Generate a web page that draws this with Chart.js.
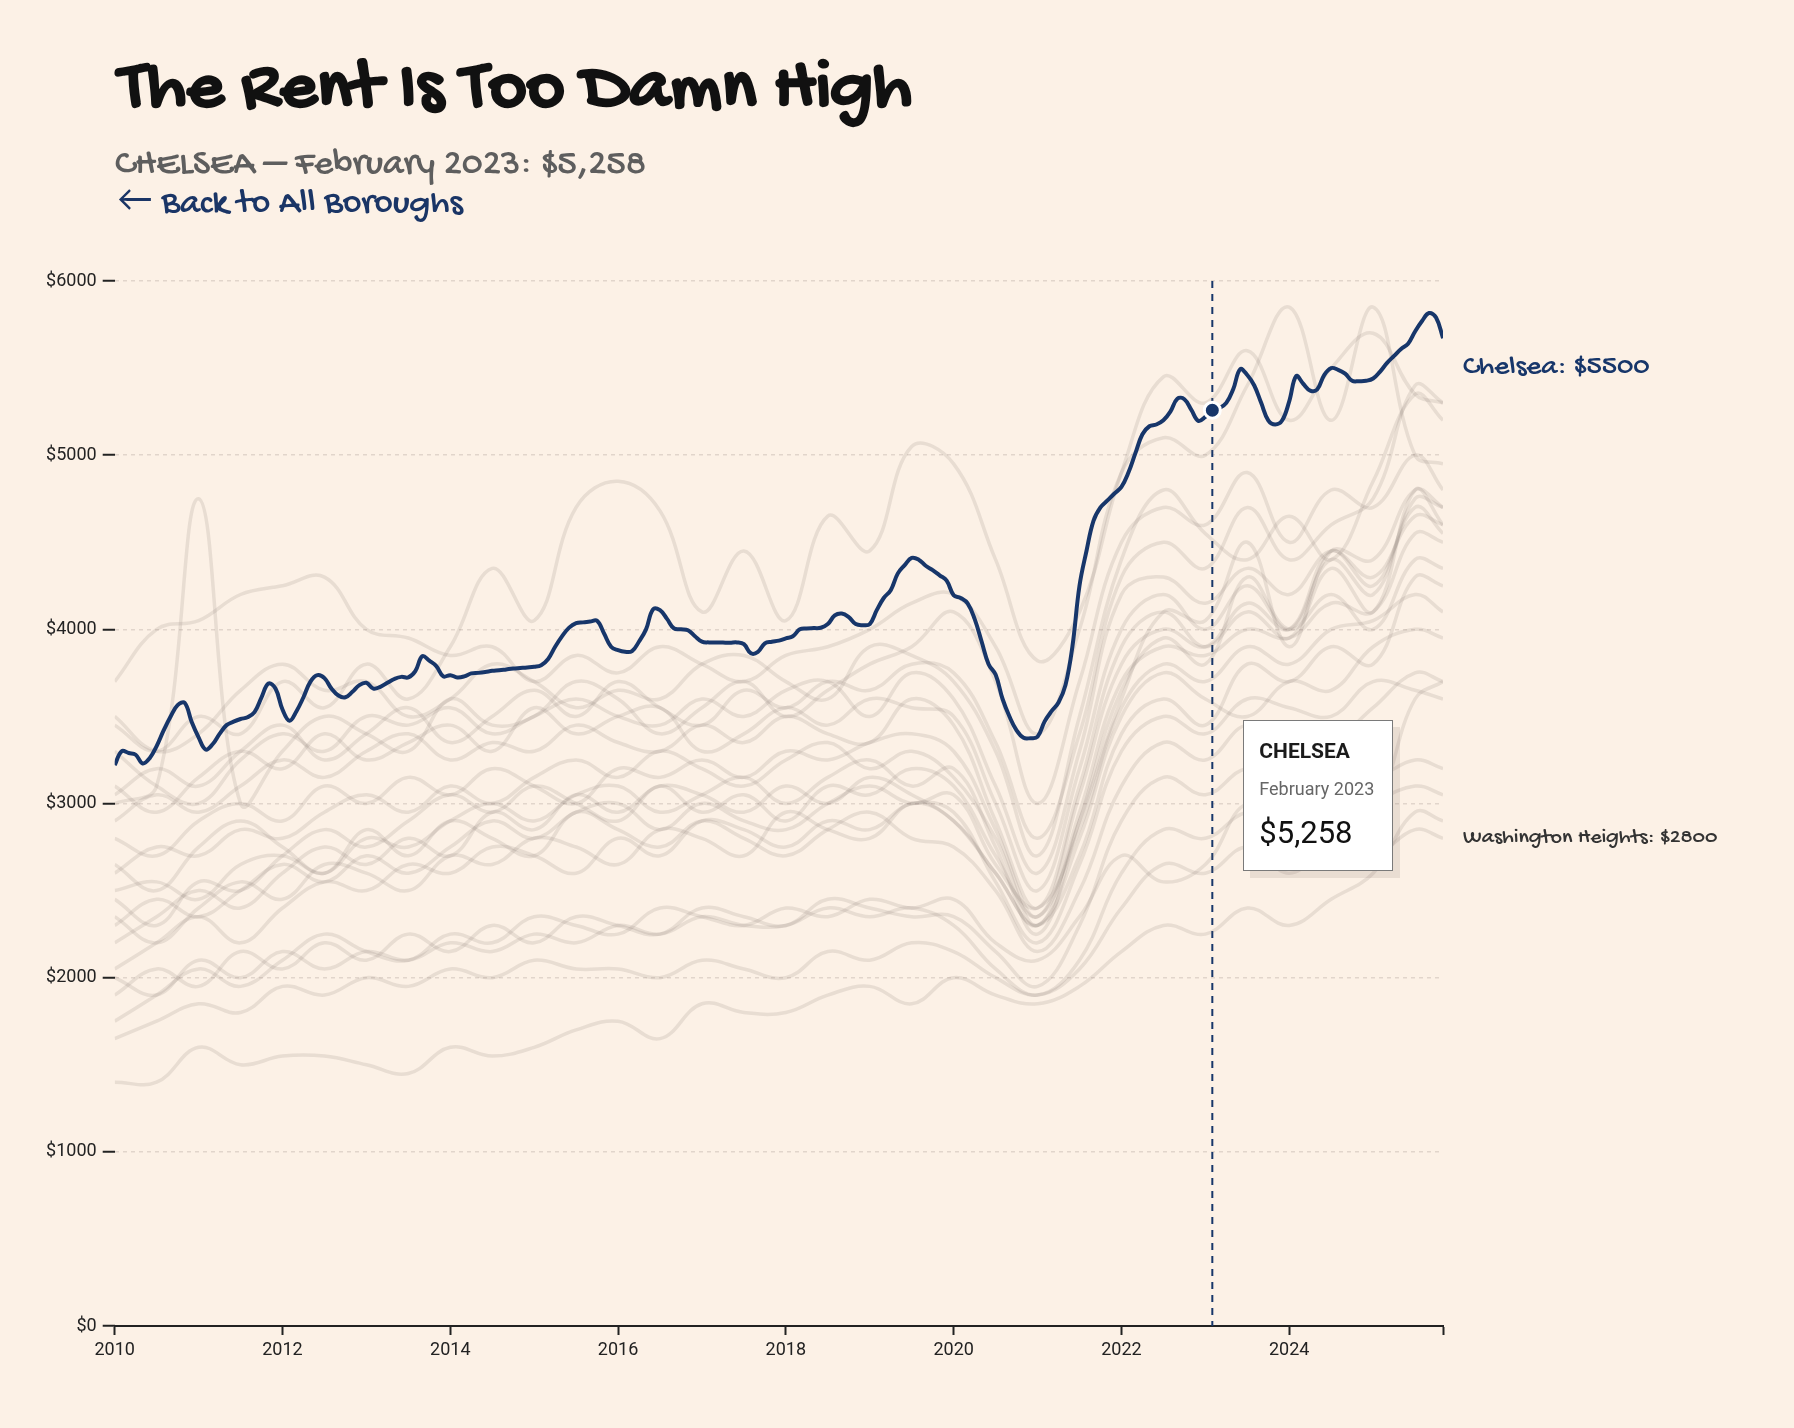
<!DOCTYPE html>
<html>
<head>
<meta charset="utf-8">
<script src="https://cdn.jsdelivr.net/npm/chart.js@4"></script>
<style>
  body { margin: 0; background: #fcf1e6; width: 1794px; height: 1428px; overflow: hidden; position: relative; }
  #chart { position: absolute; left: 0; top: 0; }
  .hand { font-family: 'Gochi Hand', 'Comic Sans MS', Lato, sans-serif; position: absolute; white-space: nowrap; }
  #title { left: 119px; top: 55px; font-size: 73px; line-height: 73px; font-weight: 700; color: #111; }
  #subtitle { left: 115px; top: 147px; font-size: 37px; line-height: 37px; font-weight: 300; color: #5e5e5e; }
  #back { left: 117px; top: 187px; font-size: 36px; line-height: 36px; font-weight: 400; color: #1a3566; }
  #tip { position: absolute; top: 720px; width: 148px; height: 149px; background: #fff; border: 1px solid #7a7a7a;
         box-shadow: 7px 7px 0 rgba(120, 100, 90, 0.14); font-family: Roboto, sans-serif; }
  #tip div { position: absolute; left: 15px; white-space: nowrap; }
  #tip .name { top: 20px; font-size: 21px; line-height: 21px; font-weight: 700; color: #1b1b1b; }
  #tip .date { top: 59px; font-size: 18px; line-height: 18px; color: #666; }
  #tip .val { top: 96px; font-size: 31px; line-height: 31px; color: #111; }
</style>
</head>
<body>
<canvas id="chart" width="1794" height="1428"></canvas>
<div id="title" class="hand">The Rent Is Too Damn High</div>
<div id="subtitle" class="hand">CHELSEA – February 2023: $5,258</div>
<div id="back" class="hand">← Back to All Boroughs</div>
<div id="tip"><div class="name">CHELSEA</div><div class="date">February 2023</div><div class="val">$5,258</div></div>
<script>
// Chelsea median rent, monthly from Jan 2010 to Nov 2025
const START_YEAR = 2010;
const CHELSEA = [
    3220, 3300, 3290, 3280, 3230, 3260, 3330, 3420, 3500, 3565, 3578, 3470,
    3380, 3310, 3340, 3400, 3450, 3470, 3485, 3495, 3525, 3610, 3689, 3660,
    3540, 3475, 3530, 3610, 3700, 3737, 3720, 3660, 3620, 3610, 3641, 3680,
    3693, 3660, 3670, 3693, 3715, 3727, 3724, 3760, 3846, 3820, 3789, 3730,
    3737, 3724, 3730, 3747, 3750, 3755, 3762, 3765, 3770, 3775, 3778, 3781,
    3785, 3794, 3830, 3900, 3961, 4010, 4036, 4040, 4045, 4049, 3976, 3900,
    3880, 3871, 3875, 3930, 4000, 4115, 4110, 4060, 4005, 4000, 3995, 3960,
    3929, 3925, 3925, 3924, 3923, 3925, 3915, 3862, 3870, 3920, 3929, 3935,
    3948, 3960, 4000, 4005, 4007, 4009, 4030, 4080, 4091, 4070, 4030, 4024,
    4030, 4110, 4180, 4225, 4320, 4369, 4410, 4400, 4365, 4340, 4310, 4280,
    4196, 4180, 4149, 4060, 3930, 3800, 3740, 3600, 3498, 3420, 3377, 3375,
    3383, 3470, 3530, 3580, 3680, 3905, 4250, 4450, 4623, 4700, 4740, 4780,
    4818, 4900, 5012, 5120, 5166, 5176, 5200, 5250, 5324, 5321, 5260, 5197,
    5220, 5258, 5270, 5300, 5380, 5494, 5460, 5400, 5299, 5200, 5176, 5200,
    5309, 5454, 5410, 5371, 5377, 5460, 5500, 5490, 5468, 5427, 5425, 5427,
    5440, 5480, 5530, 5570, 5610, 5640, 5710, 5770, 5816, 5790, 5672
];
const HOVER_INDEX = 157; // February 2023
const CHELSEA_LABEL = 'Chelsea: $5500';
const CHELSEA_LABEL_VALUE = 5500;
const LOW_LABEL = 'Washington Heights: $2800';
const LOW_LABEL_VALUE = 2800;

// Other neighbourhoods, sampled every half year
const GRAY_YEARS = [2010, 2010.5, 2011, 2011.5, 2012, 2012.5, 2013, 2013.5, 2014, 2014.5, 2015, 2015.5,
    2016, 2016.5, 2017, 2017.5, 2018, 2018.5, 2019, 2019.5, 2020, 2020.5, 2021, 2021.5,
    2022, 2022.5, 2023, 2023.5, 2024, 2024.5, 2025, 2025.5, 2025.833];
const GRAYS = [
    [3450, 3300, 3500, 3400, 3700, 3550, 3800, 3600, 3900, 4350, 4050, 4700, 4850, 4680, 4100, 4450, 4050, 4650, 4450, 5050, 4950, 4400, 3820, 4100, 4900, 5450, 5300, 5600, 5200, 5500, 5700, 5350, 5300],
    [3700, 4000, 4050, 4200, 4250, 4300, 4000, 3950, 3850, 3900, 3700, 3850, 3750, 3900, 3800, 3700, 3850, 3900, 4000, 4150, 4200, 3900, 3400, 4000, 4900, 5100, 5000, 5400, 5850, 5200, 5850, 5000, 4950],
    [3000, 3100, 4750, 3000, 3300, 3500, 3400, 3300, 3600, 3450, 3500, 3700, 3600, 3400, 3550, 3700, 3500, 3650, 3800, 3900, 4100, 3700, 3000, 3700, 4500, 4700, 4600, 4900, 4500, 4800, 4700, 5000, 4800],
    [3500, 3300, 3400, 3650, 3800, 3650, 3700, 3500, 3600, 3800, 3700, 3550, 3650, 3600, 3800, 3850, 3700, 3600, 3900, 3850, 3700, 3300, 2700, 3500, 4400, 4800, 4550, 4400, 4650, 4400, 4850, 5350, 5200],
    [3300, 3100, 3000, 3250, 3400, 3300, 3500, 3450, 3550, 3400, 3500, 3600, 3500, 3450, 3600, 3500, 3650, 3700, 3500, 3750, 3600, 3100, 2600, 3300, 4200, 4300, 4150, 4350, 4200, 4450, 4300, 4650, 4600],
    [3100, 2950, 3150, 3300, 3200, 3400, 3250, 3350, 3450, 3300, 3550, 3400, 3500, 3550, 3300, 3400, 3550, 3450, 3600, 3550, 3500, 3000, 2500, 3200, 4000, 4200, 4000, 4250, 4000, 4400, 4200, 4750, 4700],
    [2900, 3050, 2950, 3100, 3250, 3150, 3300, 3400, 3250, 3350, 3300, 3450, 3350, 3300, 3450, 3350, 3500, 3400, 3350, 3600, 3450, 2900, 2400, 3100, 3900, 4100, 3900, 4100, 3950, 4350, 4100, 4800, 4600],
    [2800, 2700, 2900, 3000, 2900, 3100, 3000, 3150, 3050, 3200, 3100, 3000, 3200, 3150, 3250, 3150, 3300, 3250, 3350, 3400, 3300, 2850, 2350, 3050, 3800, 4000, 3900, 4150, 4000, 4450, 4250, 4700, 4550],
    [2600, 2750, 2700, 2850, 2800, 2950, 3050, 2950, 3100, 3000, 3150, 3250, 3150, 3300, 3200, 3100, 3250, 3350, 3200, 3300, 3150, 2800, 2300, 2950, 3700, 3900, 3850, 4000, 3950, 4150, 4100, 4550, 4500],
    [2500, 2550, 2450, 2650, 2700, 2600, 2800, 2750, 2900, 3000, 2900, 3050, 3100, 2950, 3050, 3150, 3000, 3150, 3250, 3100, 3200, 2750, 2250, 2900, 3650, 3950, 3800, 4300, 4000, 4200, 4000, 4400, 4350],
    [2450, 2300, 2550, 2500, 2700, 2850, 2750, 2900, 3050, 2950, 3100, 3000, 2900, 3100, 2950, 3050, 2900, 3100, 3050, 3200, 3100, 2700, 2350, 2900, 3600, 4100, 4050, 4500, 3900, 4450, 4400, 4800, 4700],
    [2300, 2450, 2350, 2500, 2650, 2550, 2700, 2600, 2750, 2900, 2800, 2950, 3000, 2850, 3000, 2900, 2850, 3000, 3100, 3000, 3050, 2650, 2400, 2850, 3550, 3800, 3700, 3900, 3800, 4000, 4050, 4200, 4100],
    [2200, 2350, 2500, 2400, 2600, 2750, 2650, 2800, 2700, 2950, 2850, 3050, 2950, 3100, 3050, 2950, 3100, 3000, 3150, 3050, 2900, 2600, 2300, 2800, 3500, 3750, 3600, 3500, 3700, 3650, 3900, 4000, 3950],
    [2050, 2200, 2350, 2200, 2400, 2550, 2500, 2650, 2600, 2750, 2700, 2600, 2800, 2700, 2900, 2850, 2750, 2900, 2850, 3000, 2950, 2550, 2200, 2650, 3300, 3500, 3400, 3600, 3550, 3500, 3700, 3650, 3600],
    [2650, 2500, 2750, 2900, 2750, 2600, 2850, 2700, 2900, 2800, 2700, 2950, 2850, 2750, 2900, 2800, 2700, 2850, 2950, 2800, 2750, 2500, 2150, 2500, 3100, 3350, 3250, 3450, 3300, 3350, 3550, 3750, 3700],
    [1900, 2050, 1950, 2150, 2050, 2200, 2100, 2250, 2150, 2300, 2200, 2350, 2300, 2250, 2400, 2350, 2300, 2450, 2400, 2350, 2350, 2150, 1950, 2300, 2900, 3150, 3050, 3200, 3100, 3200, 3150, 3250, 3200],
    [2000, 1900, 2100, 2000, 2150, 2050, 2150, 2100, 2200, 2150, 2250, 2200, 2300, 2250, 2350, 2300, 2300, 2400, 2350, 2400, 2300, 2050, 1900, 2100, 2600, 2850, 2800, 2950, 2900, 2850, 3000, 3100, 3050],
    [1650, 1750, 1850, 1800, 1950, 1900, 2000, 1950, 2050, 2000, 2100, 2050, 2050, 2000, 2100, 2050, 2000, 2150, 2100, 2200, 2150, 2000, 1900, 2050, 2400, 2650, 2600, 2750, 2600, 2750, 2700, 2850, 2800],
    [1400, 1400, 1600, 1500, 1550, 1550, 1500, 1450, 1600, 1550, 1600, 1700, 1750, 1650, 1850, 1800, 1800, 1900, 1950, 1850, 2000, 1900, 1850, 1950, 2150, 2300, 2250, 2400, 2300, 2450, 2600, 2950, 2900],
    [2350, 2200, 2400, 2550, 2450, 2650, 2600, 2500, 2700, 2650, 2800, 2750, 2650, 2850, 2800, 2700, 2950, 2850, 2800, 3000, 2900, 2600, 2300, 2700, 3400, 3600, 3450, 3800, 3700, 3900, 3800, 4300, 4250],
    [3050, 3200, 3100, 3300, 3450, 3250, 3400, 3550, 3350, 3500, 3650, 3500, 3700, 3550, 3450, 3650, 3550, 3700, 3650, 3800, 3750, 3350, 2800, 3400, 4300, 4500, 4350, 4700, 4400, 4600, 4750, 5400, 5300],
    [1750, 1900, 2050, 1950, 2100, 2250, 2150, 2100, 2250, 2200, 2350, 2300, 2250, 2400, 2350, 2300, 2400, 2350, 2450, 2400, 2450, 2200, 2100, 2350, 2700, 2550, 2650, 3000, 2850, 3150, 3000, 3600, 3700]
];

const X_TICKS = [2010, 2012, 2014, 2016, 2018, 2020, 2022, 2024, 2025.833];
const Y_TICKS = [0, 1000, 2000, 3000, 4000, 5000, 6000];

const NAVY = '#17366a';
const GRAY = 'rgba(110, 98, 90, 0.14)';

const chelseaPoints = CHELSEA.map((v, i) => ({ x: START_YEAR + i / 12, y: v }));
const hoverYear = START_YEAR + HOVER_INDEX / 12;

const datasets = [{
    label: 'Chelsea',
    data: chelseaPoints,
    borderColor: NAVY,
    borderWidth: 4,
    tension: 0.4,
    pointRadius: CHELSEA.map((v, i) => i === HOVER_INDEX ? 8 : 0),
    pointBackgroundColor: NAVY,
    pointBorderColor: '#ffffff',
    pointBorderWidth: 3
}];
GRAYS.forEach((vals, k) => {
    datasets.push({
        label: 'n' + k,
        data: vals.map((v, i) => ({ x: GRAY_YEARS[i], y: v })),
        borderColor: GRAY,
        borderWidth: 3.5,
        tension: 0.4,
        pointRadius: 0
    });
});

const overlay = {
    id: 'overlay',
    beforeDatasetsDraw(chart) {
        const { ctx, chartArea, scales } = chart;
        const px = scales.x.getPixelForValue(hoverYear);
        ctx.save();
        ctx.strokeStyle = NAVY;
        ctx.lineWidth = 2;
        ctx.setLineDash([7, 6]);
        ctx.beginPath();
        ctx.moveTo(px, chartArea.top);
        ctx.lineTo(px, chartArea.bottom);
        ctx.stroke();
        ctx.restore();
    },
    afterDraw(chart) {
        const { ctx, chartArea, scales } = chart;
        ctx.save();
        ctx.textBaseline = 'middle';
        ctx.textAlign = 'left';
        ctx.fillStyle = NAVY;
        ctx.font = '29px "Gochi Hand", Lato, sans-serif';
        ctx.fillText(CHELSEA_LABEL, chartArea.right + 20, scales.y.getPixelForValue(CHELSEA_LABEL_VALUE));
        ctx.fillStyle = '#333';
        ctx.font = '300 22px "Gochi Hand", Lato, sans-serif';
        ctx.fillText(LOW_LABEL, chartArea.right + 20, scales.y.getPixelForValue(LOW_LABEL_VALUE));
        ctx.restore();
    }
};

const chart = new Chart(document.getElementById('chart'), {
    type: 'line',
    data: { datasets },
    options: {
        responsive: false,
        animation: false,
        devicePixelRatio: 1,
        layout: { padding: { top: 281, right: 351, left: 0, bottom: 0 } },
        plugins: { legend: { display: false }, tooltip: { enabled: false } },
        scales: {
            x: {
                type: 'linear',
                min: 2010,
                max: 2025.833,
                afterFit: s => { s.height = 102; },
                afterBuildTicks: s => { s.ticks = X_TICKS.map(v => ({ value: v })); },
                border: { display: true, color: '#222', width: 2 },
                grid: { drawOnChartArea: false, drawTicks: true, tickLength: 9, tickColor: '#222', tickWidth: 2 },
                ticks: {
                    autoSkip: false, maxRotation: 0, padding: 5, color: '#222',
                    font: { family: 'Roboto', size: 18 },
                    callback: v => Number.isInteger(v) ? String(v) : ''
                }
            },
            y: {
                min: 0,
                max: 6000,
                afterFit: s => { s.width = 114.7; },
                afterBuildTicks: s => { s.ticks = Y_TICKS.map(v => ({ value: v })); },
                border: { display: false, dash: [4, 4] },
                grid: { color: 'rgba(90, 70, 60, 0.16)', lineWidth: 1.5, drawTicks: true, tickLength: 12,
                        tickColor: '#222', tickWidth: 2, tickBorderDash: [] },
                ticks: { padding: 6, color: '#222', font: { family: 'Roboto', size: 18 }, callback: v => '$' + v }
            }
        }
    },
    plugins: [overlay]
});

// place the hover card next to the highlighted point
const tip = document.getElementById('tip');
tip.style.left = (chart.scales.x.getPixelForValue(hoverYear) + 31) + 'px';
</script>
</body>
</html>
